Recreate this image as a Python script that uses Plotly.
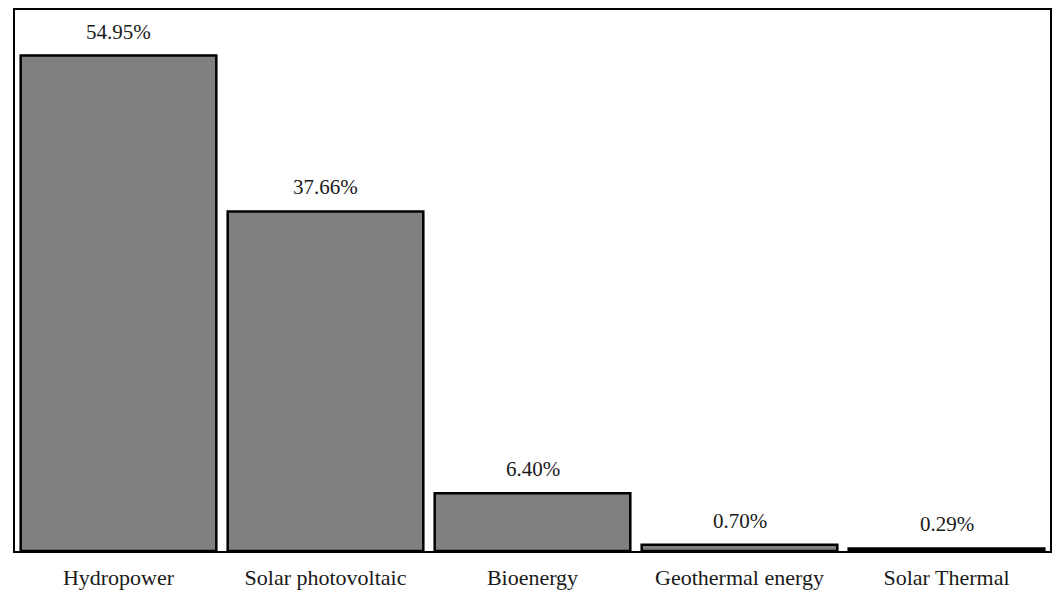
import plotly.graph_objects as go

categories = ["Hydropower", "Solar photovoltaic", "Bioenergy", "Geothermal energy", "Solar Thermal"]
values = [54.95, 37.66, 6.40, 0.70, 0.29]
labels = ["54.95%", "37.66%", "6.40%", "0.70%", "0.29%"]

FONT = "Liberation Serif, DejaVu Serif, serif"

fig = go.Figure(go.Bar(
    x=categories, y=values,
    marker=dict(color="#808080", line=dict(color="black", width=2.5)),
    hoverinfo="skip",
))

for c, v, t in zip(categories, values, labels):
    fig.add_annotation(x=c, y=v, text=t, showarrow=False, yanchor="bottom",
                       yshift=10, font=dict(family=FONT, size=21, color="#1a1a1a"))

fig.update_layout(
    width=1054, height=593,
    margin=dict(l=15, r=4, t=10, b=42),
    paper_bgcolor="white", plot_bgcolor="white",
    bargap=0.055,
    showlegend=False,
    font=dict(family=FONT, size=21, color="#1a1a1a"),
)
fig.update_xaxes(showline=True, linecolor="black", linewidth=2, mirror=True, automargin=False,
                 ticks="", ticklabelstandoff=6, tickfont=dict(family=FONT, size=22, color="#1a1a1a"))
fig.update_yaxes(range=[0, 60], showline=True, linecolor="black", linewidth=2, mirror=True, automargin=False,
                 showgrid=False, showticklabels=False, ticks="", zeroline=False)

fig.write_html("out.html", config={"displayModeBar": False},
               post_script="document.body.style.margin='0';document.body.style.overflow='hidden';")
